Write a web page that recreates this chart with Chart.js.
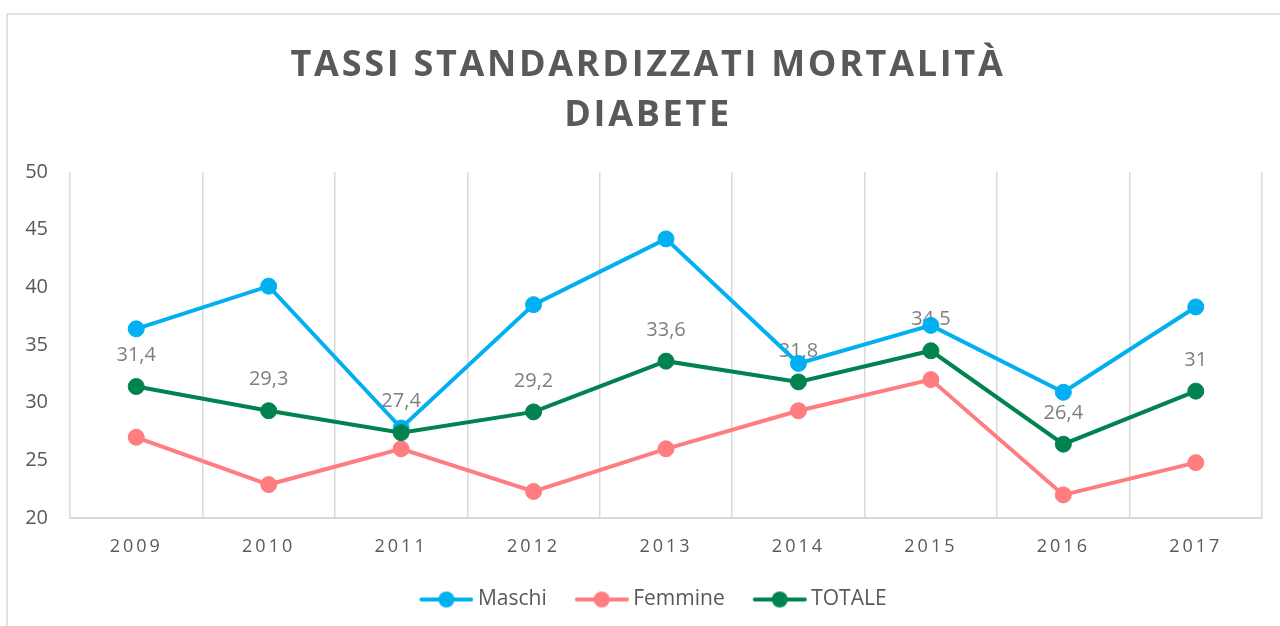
<!DOCTYPE html>
<html>
<head>
<meta charset="utf-8">
<script src="https://cdn.jsdelivr.net/npm/chart.js@4/dist/chart.umd.min.js"></script>
<style>
html,body{margin:0;padding:0;background:#fff;}
#wrap{width:1280px;height:626px;position:relative;}
</style>
</head>
<body>
<div id="wrap"><canvas id="c" width="1280" height="626"></canvas></div>
<script>
const categories = ['2009','2010','2011','2012','2013','2014','2015','2016','2017'];
const maschi  = [36.4, 40.1, 27.8, 38.5, 44.2, 33.4, 36.7, 30.9, 38.3];
const femmine = [27.0, 22.9, 26.0, 22.3, 26.0, 29.3, 32.0, 22.0, 24.8];
const totale  = [31.4, 29.3, 27.4, 29.2, 33.6, 31.8, 34.5, 26.4, 31.0];
const seriesNames = ['Maschi', 'Femmine', 'TOTALE'];
const titleLines = ['TASSI STANDARDIZZATI MORTALITÀ', 'DIABETE'];
const yTicks = [20, 25, 30, 35, 40, 45, 50];

const colors = ['#00B0F0', '#FF7C80', '#00834F'];

// legend icon: image 70 wide, centered at x+29 (boxWidth 58); line drawn from x+10 to x+64
function legendIcon(color) {
  const cv = document.createElement('canvas');
  cv.width = 70; cv.height = 20;
  const g = cv.getContext('2d');
  g.strokeStyle = color; g.lineWidth = 4; g.lineCap = 'round';
  g.beginPath(); g.moveTo(18, 10); g.lineTo(68, 10); g.stroke();
  g.fillStyle = color;
  g.beginPath(); g.arc(43, 10, 8, 0, Math.PI * 2); g.fill();
  return cv;
}

function wrapDraw(obj, fn, ls, dx) {
  if (!obj || obj['_w_' + fn]) return;
  const orig = obj[fn];
  obj[fn] = function (...a) {
    const c = this.ctx;
    c.save();
    if (ls) c.letterSpacing = ls;
    if (dx) c.translate(dx, 0);
    orig.apply(this, a);
    c.restore();
  };
  obj['_w_' + fn] = true;
}

const decoPlugin = {
  id: 'deco',
  beforeDraw(chart) {
    const ctx = chart.ctx;
    ctx.save();
    ctx.strokeStyle = '#D9D9D9';
    ctx.lineWidth = 1.5;
    ctx.strokeRect(7, 14, 1400, 800);
    ctx.restore();
    wrapDraw(chart.titleBlock, 'draw', '2.7px', 17);
    wrapDraw(chart.legend, 'draw', null, 17);
    wrapDraw(chart.scales.x, 'drawLabels', '3px', 0);
  },
  beforeDatasetsDraw(chart) {
    const ctx = chart.ctx;
    const idx = 2;
    const meta = chart.getDatasetMeta(idx);
    ctx.save();
    ctx.font = '20px "Open Sans"';
    ctx.fillStyle = '#7F7F7F';
    ctx.textAlign = 'center';
    ctx.textBaseline = 'middle';
    meta.data.forEach((pt, i) => {
      const v = chart.data.datasets[idx].data[i];
      const s = String(v).replace('.', ',');
      ctx.fillText(s, pt.x, pt.y - 31);
    });
    ctx.restore();
  }
};

const seriesData = [maschi, femmine, totale];
const icons = colors.map(legendIcon);
const datasets = seriesData.map((d, i) => ({
  label: seriesNames[i],
  data: d,
  borderColor: colors[i],
  backgroundColor: colors[i],
  borderWidth: 4,
  pointRadius: 8,
  pointHoverRadius: 8,
  pointBorderWidth: 1,
  pointBackgroundColor: colors[i],
  pointBorderColor: colors[i],
  pointStyle: 'circle',
  tension: 0,
  order: 2 - i
}));

new Chart(document.getElementById('c'), {
  type: 'line',
  data: { labels: categories, datasets },
  plugins: [decoPlugin],
  options: {
    responsive: false,
    animation: false,
    events: [],
    layout: { padding: { left: 0, right: 18, top: 0, bottom: 6 } },
    plugins: {
      title: {
        display: true,
        text: titleLines,
        color: '#595959',
        font: { family: '"Open Sans"', size: 36, weight: 'bold', lineHeight: 1.389 },
        padding: { top: 41, bottom: 31 }
      },
      legend: {
        position: 'bottom',
        labels: {
          usePointStyle: true,
          pointStyleWidth: 58,
          color: '#595959',
          font: { family: '"Open Sans"', size: 21 },
          padding: 18,
          generateLabels(chart) {
            return chart.data.datasets.map((ds, i) => ({
              text: ds.label,
              datasetIndex: i,
              pointStyle: icons[i],
              fillStyle: ds.borderColor,
              strokeStyle: ds.borderColor,
              lineWidth: 0,
              fontColor: '#595959',
              hidden: false
            }));
          }
        }
      },
      tooltip: { enabled: false }
    },
    scales: {
      x: {
        offset: true,
        grid: { display: true, offset: true, color: '#D9D9D9', lineWidth: 1.5, drawTicks: false },
        border: { display: true, color: '#D9D9D9', width: 2 },
        ticks: { color: '#595959', font: { family: '"Open Sans"', size: 18 }, padding: 18, maxRotation: 0 },
        afterFit(s) { s.height = 53; }
      },
      y: {
        min: 20, max: 50,
        afterBuildTicks(s) { s.ticks = yTicks.map(v => ({ value: v })); },
        grid: { display: false, drawTicks: false },
        border: { display: false },
        ticks: { color: '#595959', font: { family: '"Open Sans"', size: 20 }, padding: 22 },
        afterFit(s) { s.width = 70; }
      }
    }
  }
});
</script>
</body>
</html>
